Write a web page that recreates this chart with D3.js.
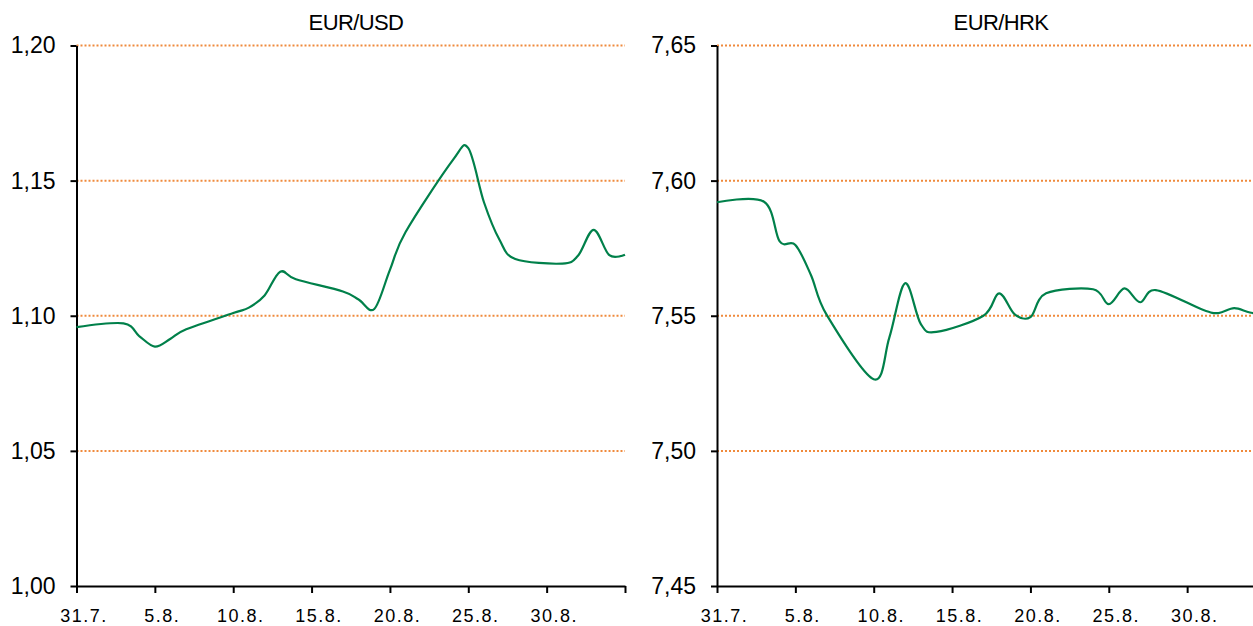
<!DOCTYPE html>
<html>
<head>
<meta charset="utf-8">
<script src="https://cdn.jsdelivr.net/npm/d3@7"></script>
<style>
  html, body { margin: 0; padding: 0; background: #fff; }
  svg { display: block; }
</style>
</head>
<body>
<svg id="chart"></svg>
<script>
// dnevni tečajevi (radni dani)
const dates = [
  '2015-07-31',
  '2015-08-03', '2015-08-04', '2015-08-05', '2015-08-06', '2015-08-07',
  '2015-08-10', '2015-08-11', '2015-08-12', '2015-08-13', '2015-08-14',
  '2015-08-17', '2015-08-18', '2015-08-19', '2015-08-20', '2015-08-21',
  '2015-08-24', '2015-08-25', '2015-08-26', '2015-08-27', '2015-08-28',
  '2015-08-31', '2015-09-01', '2015-09-02', '2015-09-03', '2015-09-04'
]

const eurUsd = [
  1.0958,
  1.0972, 1.0925, 1.0886, 1.0915, 1.0950,
  1.1010, 1.1030, 1.1075, 1.1163, 1.1135,
  1.1090, 1.1060, 1.1025, 1.1170, 1.1310,
  1.1575, 1.1620, 1.1420, 1.1280, 1.1210,
  1.1193, 1.1222, 1.1318, 1.1224, 1.1226
]

const eurHrk = [
  7.5920,
  7.5922, 7.5775, 7.5762, 7.5650, 7.5503,
  7.5265, 7.5420, 7.5620, 7.5470, 7.5440,
  7.5500, 7.5583, 7.5505, 7.5495, 7.5583,
  7.5598, 7.5543, 7.5601, 7.5550, 7.5595,
  7.5522, 7.5510, 7.5528, 7.5512, 7.5505
]

const xTickDates = ['2015-07-31', '2015-08-05', '2015-08-10', '2015-08-15',
  '2015-08-20', '2015-08-25', '2015-08-30', '2015-09-04']
const xTickLabels = ['31.7.', '5.8.', '10.8.', '15.8.', '20.8.', '25.8.', '30.8.', '']

const usdTicks = [1.00, 1.05, 1.10, 1.15, 1.20]
const hrkTicks = [7.45, 7.50, 7.55, 7.60, 7.65]

const W = 1253
const H = 626
const parse = d3.timeParse('%Y-%m-%d')
const fmtComma = v => d3.format('.2f')(v).replace('.', ',')

const svg = d3.select('#chart')
  .attr('width', W)
  .attr('height', H)

function drawPanel({ title, values, yTicks, x0, x1, titleX }) {
  const data = dates.map((d, i) => ({ date: parse(d), value: values[i] }))

  const x = d3.scaleTime()
    .domain([parse(xTickDates[0]), parse(xTickDates[xTickDates.length - 1])])
    .range([x0, x1])

  const y = d3.scaleLinear()
    .domain([yTicks[0], yTicks[yTicks.length - 1]])
    .range([586, 45.5])

  const g = svg.append('g')

  // mreža - narančaste točkaste linije
  g.append('g')
    .selectAll('line')
    .data(yTicks.slice(1))
    .enter()
    .append('line')
    .attr('x1', x0)
    .attr('x2', x1)
    .attr('y1', d => y(d))
    .attr('y2', d => y(d))
    .attr('stroke', '#f08a3c')
    .attr('stroke-width', 2)
    .attr('stroke-dasharray', '2,2')

  // y os
  const yAxis = g.append('g')
    .attr('transform', `translate(${x0},0)`)
    .call(d3.axisLeft(y).tickValues(yTicks).tickSize(6).tickSizeOuter(0).tickPadding(15).tickFormat(fmtComma))
  yAxis.select('.domain').attr('stroke', '#000').attr('stroke-width', 2)
  yAxis.selectAll('.tick line').attr('stroke', '#000').attr('stroke-width', 2)
  yAxis.selectAll('.tick text')
    .attr('fill', '#000')
    .style('font-family', '"Liberation Sans", Arial, sans-serif')
    .style('font-size', '23px')

  // x os
  const xAxis = g.append('g')
    .attr('transform', 'translate(0,586)')
    .call(d3.axisBottom(x).tickValues(xTickDates.map(parse)).tickSize(7).tickSizeOuter(0).tickPadding(16)
      .tickFormat((d, i) => xTickLabels[i]))
  xAxis.select('.domain').attr('stroke', '#000').attr('stroke-width', 2)
  xAxis.selectAll('.tick line').attr('stroke', '#000').attr('stroke-width', 2)
  xAxis.selectAll('.tick text')
    .attr('fill', '#000')
    .attr('dx', 7)
    .style('font-family', '"Liberation Sans", Arial, sans-serif')
    .style('font-size', '18px')
    .style('letter-spacing', '1.5px')

  // linija tečaja
  const line = d3.line()
    .x(d => x(d.date))
    .y(d => y(d.value))
    .curve(d3.curveCardinal.tension(0))

  g.append('path')
    .datum(data)
    .attr('d', line)
    .attr('fill', 'none')
    .attr('stroke', '#00804a')
    .attr('stroke-width', 2.2)

  g.append('text')
    .attr('x', titleX)
    .attr('y', 30)
    .attr('text-anchor', 'middle')
    .style('font-family', '"Liberation Sans", Arial, sans-serif')
    .style('font-size', '22px')
    .style('letter-spacing', '-0.6px')
    .text(title)
}

drawPanel({ title: 'EUR/USD', values: eurUsd, yTicks: usdTicks, x0: 76.5, x1: 625, titleX: 356 })
drawPanel({ title: 'EUR/HRK', values: eurHrk, yTicks: hrkTicks, x0: 717, x1: 1265.5, titleX: 1001 })
</script>
</body>
</html>
